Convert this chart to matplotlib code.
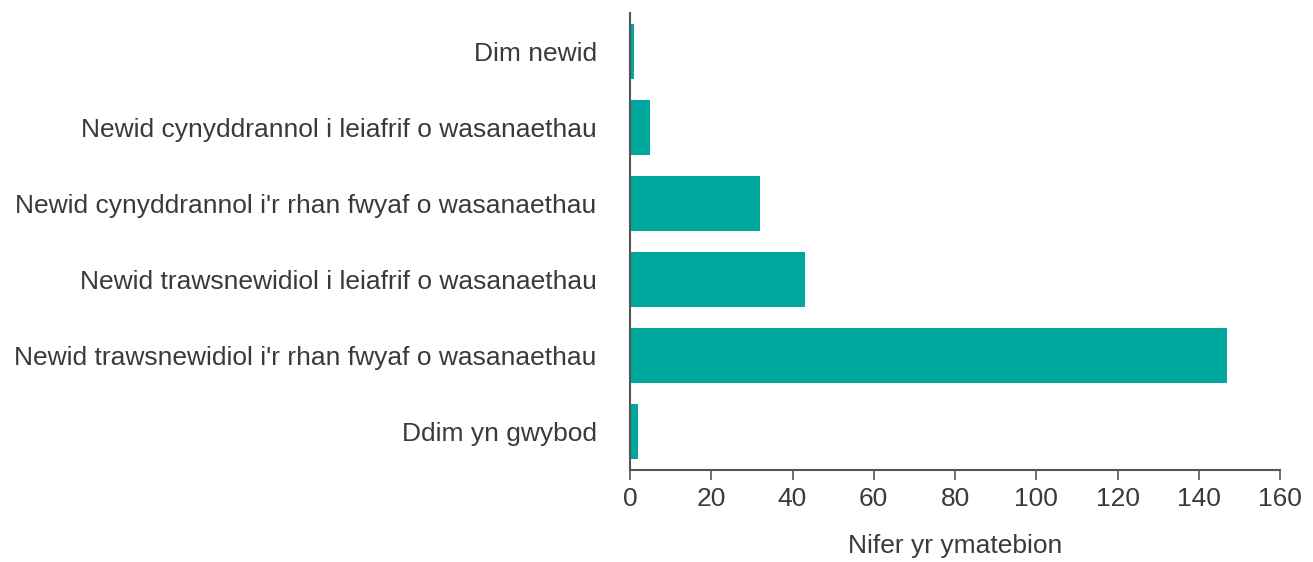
import matplotlib
matplotlib.use("Agg")
import matplotlib.pyplot as plt

categories = [
    "Dim newid",
    "Newid cynyddrannol i leiafrif o wasanaethau",
    "Newid cynyddrannol i'r rhan fwyaf o wasanaethau",
    "Newid trawsnewidiol i leiafrif o wasanaethau",
    "Newid trawsnewidiol i'r rhan fwyaf o wasanaethau",
    "Ddim yn gwybod",
]
values = [1, 5, 32, 43, 147, 2]
xticks = [0, 20, 40, 60, 80, 100, 120, 140, 160]
xlabel = "Nifer yr ymatebion"

plt.rcParams['font.family'] = ['Liberation Sans', 'DejaVu Sans']

fig = plt.figure(figsize=(13.13, 5.62), dpi=100)
ax = fig.add_axes([630/1313, 1-470/562, 650/1313, 457/562])

ypos = list(range(len(categories)))
ax.barh(ypos, values, height=0.72, color="#00A79D")
ax.set_ylim(len(categories)-0.5, -0.5)
ax.set_xlim(0, 160)
ax.set_yticks(ypos)
ax.set_yticklabels(categories)
ax.set_xticks(xticks)
ax.set_xticklabels([str(t) for t in xticks])

for s in ["top", "right"]:
    ax.spines[s].set_visible(False)
for s in ["left", "bottom"]:
    ax.spines[s].set_color("#555555")
    ax.spines[s].set_linewidth(1.5)

ax.tick_params(axis='y', length=0, pad=24, labelsize=19, labelcolor="#3a3a3a")
ax.tick_params(axis='x', length=7.5, width=1.2, color="#555555", pad=5, labelsize=19, labelcolor="#3a3a3a")
ax.set_xlabel(xlabel, fontsize=19, color="#3a3a3a", labelpad=16)

fig.savefig("out.png", dpi=100)
